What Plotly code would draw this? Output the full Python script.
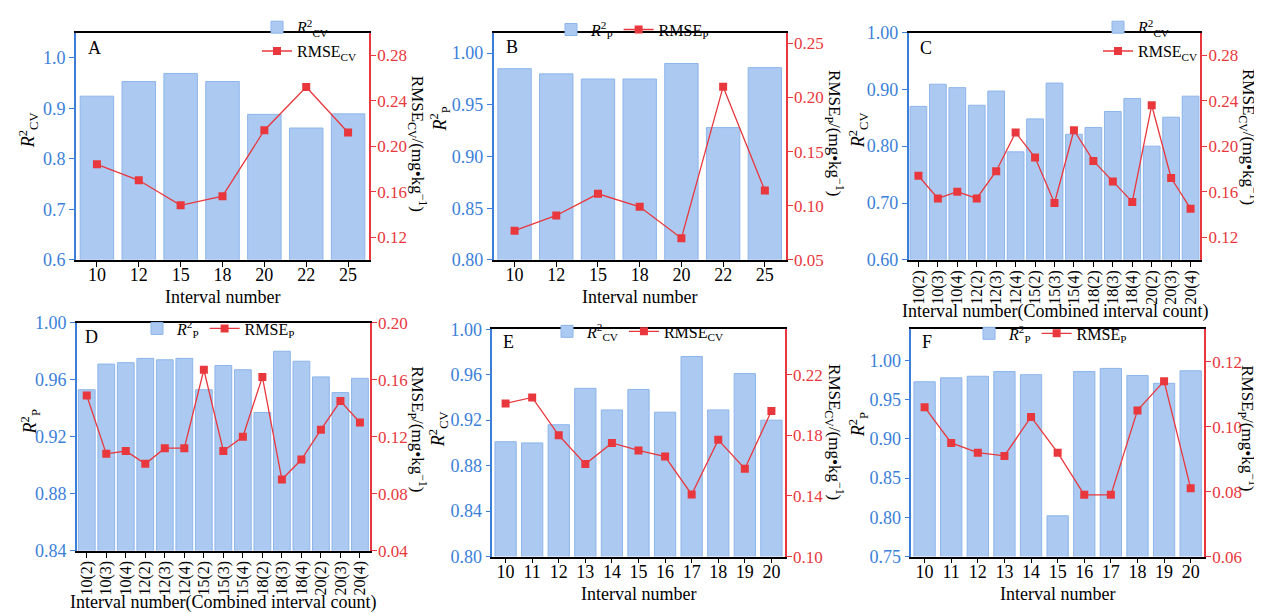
import plotly.graph_objects as go

W, H = 1262, 614

# ---------------- data ----------------
cats_AB = ["10", "12", "15", "18", "20", "22", "25"]
r2cv_A = [0.924, 0.953, 0.969, 0.953, 0.888, 0.861, 0.889]
rmsecv_A = [0.184, 0.170, 0.148, 0.156, 0.214, 0.252, 0.212]

r2p_B = [0.985, 0.980, 0.975, 0.975, 0.990, 0.928, 0.986]
rmsep_B = [0.077, 0.091, 0.111, 0.099, 0.070, 0.210, 0.114]

cats_CD = ["10(2)", "10(3)", "10(4)", "12(2)", "12(3)", "12(4)", "15(2)", "15(3)",
           "15(4)", "18(2)", "18(3)", "18(4)", "20(2)", "20(3)", "20(4)"]
r2cv_C = [0.870, 0.909, 0.903, 0.872, 0.897, 0.790, 0.848, 0.911, 0.821, 0.833,
          0.861, 0.884, 0.800, 0.851, 0.888]
rmsecv_C = [0.174, 0.154, 0.160, 0.154, 0.178, 0.212, 0.190, 0.150, 0.214, 0.187,
            0.169, 0.151, 0.236, 0.172, 0.145]

r2p_D = [0.953, 0.971, 0.972, 0.975, 0.974, 0.975, 0.953, 0.970, 0.967, 0.937,
         0.980, 0.973, 0.962, 0.951, 0.961]
rmsep_D = [0.149, 0.108, 0.110, 0.101, 0.112, 0.112, 0.167, 0.110, 0.120, 0.162,
           0.090, 0.104, 0.125, 0.145, 0.130]

cats_EF = ["10", "11", "12", "13", "14", "15", "16", "17", "18", "19", "20"]
r2cv_E = [0.901, 0.900, 0.916, 0.948, 0.929, 0.947, 0.927, 0.976, 0.929, 0.961, 0.920]
rmsecv_E = [0.201, 0.205, 0.180, 0.161, 0.175, 0.170, 0.166, 0.141, 0.177, 0.158, 0.196]

r2p_F = [0.973, 0.978, 0.980, 0.986, 0.982, 0.802, 0.986, 0.990, 0.981, 0.971, 0.987]
rmsep_F = [0.106, 0.095, 0.092, 0.091, 0.103, 0.092, 0.079, 0.079, 0.105, 0.114, 0.081]

# tick values
lt_A = [0.6, 0.7, 0.8, 0.9, 1.0]
rt_A = [0.12, 0.16, 0.20, 0.24, 0.28]
lt_B = [0.80, 0.85, 0.90, 0.95, 1.00]
rt_B = [0.05, 0.10, 0.15, 0.20, 0.25]
lt_C = [0.60, 0.70, 0.80, 0.90, 1.00]
rt_C = [0.12, 0.16, 0.20, 0.24, 0.28]
lt_D = [0.84, 0.88, 0.92, 0.96, 1.00]
rt_D = [0.04, 0.08, 0.12, 0.16, 0.20]
lt_E = [0.80, 0.84, 0.88, 0.92, 0.96, 1.00]
rt_E = [0.10, 0.14, 0.18, 0.22]
lt_F = [0.75, 0.80, 0.85, 0.90, 0.95, 1.00]
rt_F = [0.06, 0.08, 0.10, 0.12]

# ---------------- style ----------------
FONT = "Liberation Serif"
BLUE = "#3b7fd9"
RED = "#e8383d"
BAR_FILL = "#abc9f1"
BAR_LINE = "#8db5ea"

R2CV = "<i>R</i><sup>2</sup><sub>CV</sub>"
R2P = "<i>R</i><sup>2</sup><sub>P</sub>"
RMSECV = "RMSE<sub>CV</sub>"
RMSEP = "RMSE<sub>P</sub>"
UNIT = "/(mg•kg<sup>−1</sup>)"


def fx(px):
    return px / W


def fy(py):
    return 1 - py / H


panels = [
    dict(letter="A", cats=cats_AB, bar=r2cv_A, line=rmsecv_A, bn=R2CV, ln=RMSECV,
         lr=[0.6, 1.05], lt=lt_A, lf=".1f", rr=[0.10, 0.30], rt=rt_A, rf=".2f",
         xd=(68, 361), yd=(15, 250), angle=0, xt="Interval number", xty=288,
         lx=78, ly=31, leg=dict(x=249, y=22, orientation="v"),
         ltt=R2CV, rtt=RMSECV + UNIT, ltx=20, lty=116, rtx=409, rty=130, gap=0.2),
    dict(letter="B", cats=cats_AB, bar=r2p_B, line=rmsep_B, bn=R2P, ln=RMSEP,
         lr=[0.80, 1.02], lt=lt_B, lf=".2f", rr=[0.05, 0.26], rt=rt_B, rf=".2f",
         xd=(485.7, 777.7), yd=(15, 250), angle=0, xt="Interval number", xty=288,
         lx=496, ly=30, leg=dict(x=543, y=12, orientation="h"),
         ltt=R2P, rtt=RMSEP + UNIT, ltx=432, lty=105, rtx=827, rty=119, gap=0.2),
    dict(letter="C", cats=cats_CD, bar=r2cv_C, line=rmsecv_C, bn=R2CV, ln=RMSECV,
         lr=[0.60, 1.00], lt=lt_C, lf=".2f", rr=[0.10, 0.30], rt=rt_C, rf=".2f",
         xd=(900.7, 1192.3), yd=(15, 250), angle=-90,
         xt="Interval number(Combined interval count)", xty=303,
         lx=910, ly=31, leg=dict(x=1090, y=22, orientation="v"),
         ltt=R2CV, rtt=RMSECV + UNIT, ltx=850, lty=116, rtx=1240, rty=123, gap=0.14),
    dict(letter="D", cats=cats_CD, bar=r2p_D, line=rmsep_D, bn=R2P, ln=RMSEP,
         lr=[0.84, 1.00], lt=lt_D, lf=".2f", rr=[0.04, 0.20], rt=rt_D, rf=".2f",
         xd=(69, 361.7), yd=(315, 550.7), angle=-90,
         xt="Interval number(Combined interval count)", xty=604,
         lx=75, ly=330, leg=dict(x=129, y=321, orientation="h"),
         ltt=R2P, rtt=RMSEP + UNIT, ltx=22, lty=418, rtx=410, rty=425, gap=0.14),
    dict(letter="E", cats=cats_EF, bar=r2cv_E, line=rmsecv_E, bn=R2CV, ln=RMSECV,
         lr=[0.80, 1.00], lt=lt_E, lf=".2f", rr=[0.10, 0.25], rt=rt_E, rf=".2f",
         xd=(484.3, 776.7), yd=(321.7, 556.7), angle=0, xt="Interval number", xty=595,
         lx=493, ly=335, leg=dict(x=539, y=324, orientation="h"),
         ltt=R2CV, rtt=RMSECV + UNIT, ltx=430, lty=425, rtx=827, rty=428, gap=0.2),
    dict(letter="F", cats=cats_EF, bar=r2p_F, line=rmsep_F, bn=R2P, ln=RMSEP,
         lr=[0.75, 1.04], lt=lt_F, lf=".2f", rr=[0.06, 0.13], rt=rt_F, rf=".2f",
         xd=(903.3, 1196), yd=(321.7, 556.7), angle=0, xt="Interval number", xty=595,
         lx=912, ly=335, leg=dict(x=961, y=326, orientation="h"),
         ltt=R2P, rtt=RMSEP + UNIT, ltx=850, lty=420, rtx=1240, rty=424, gap=0.2),
]

fig = go.Figure()
layout = dict(
    width=W, height=H, margin=dict(l=0, r=0, t=0, b=0, pad=0),
    paper_bgcolor="white", plot_bgcolor="white",
    font=dict(family=FONT, size=17, color="black"),
    barmode="group", bargap=0.2,
    annotations=[],
)

for i, p in enumerate(panels, start=1):
    xname = "x" if i == 1 else f"x{i}"
    xkey = "xaxis" if i == 1 else f"xaxis{i}"
    ly_n = 2 * i - 1
    ry_n = 2 * i
    lyname = "y" if ly_n == 1 else f"y{ly_n}"
    lykey = "yaxis" if ly_n == 1 else f"yaxis{ly_n}"
    ryname = f"y{ry_n}"
    rykey = f"yaxis{ry_n}"
    legref = "legend" if i == 1 else f"legend{i}"

    fig.add_trace(go.Bar(
        x=p["cats"], y=p["bar"], name=p["bn"], xaxis=xname, yaxis=lyname,
        marker=dict(color=BAR_FILL, line=dict(color=BAR_LINE, width=1)),
        width=1 - p["gap"], legend=legref,
    ))
    fig.add_trace(go.Scatter(
        x=p["cats"], y=p["line"], name=p["ln"], xaxis=xname, yaxis=ryname,
        mode="lines+markers", line=dict(color=RED, width=1.3),
        marker=dict(symbol="square", size=8, color=RED), legend=legref,
    ))

    x0, x1 = p["xd"]
    y0, y1 = p["yd"]
    rotated = p["angle"] != 0
    layout[xkey] = dict(
        domain=[fx(x0), fx(x1)], anchor=lyname, type="category",
        range=[-0.5, len(p["cats"]) - 0.5],
        tickmode="array", tickvals=p["cats"], ticktext=p["cats"],
        showline=True, linecolor="black", linewidth=1.6, mirror=True,
        ticks="outside", ticklen=5, tickwidth=1.2, tickcolor="black",
        tickangle=p["angle"], ticklabelstandoff=-3 if rotated else -7,
        tickfont=dict(family=FONT, size=16 if rotated else 18, color="black"),
        showgrid=False, zeroline=False, fixedrange=True,
    )
    layout[lykey] = dict(
        domain=[fy(y1), fy(y0)], anchor=xname, range=p["lr"],
        tickvals=p["lt"], ticktext=[format(v, p["lf"]) for v in p["lt"]],
        showline=True, linecolor=BLUE, linewidth=1.6,
        ticks="outside", ticklen=5, tickwidth=1.2, tickcolor=BLUE,
        tickfont=dict(family=FONT, size=18, color=BLUE),
        showgrid=False, zeroline=False, fixedrange=True,
    )
    layout[rykey] = dict(
        overlaying=lyname, side="right", anchor=xname, range=p["rr"],
        tickvals=p["rt"], ticktext=[format(v, p["rf"]) for v in p["rt"]],
        showline=True, linecolor=RED, linewidth=1.6,
        ticks="outside", ticklen=5, tickwidth=1.2, tickcolor=RED,
        ticklabelstandoff=-2,
        tickfont=dict(family=FONT, size=17, color=RED),
        showgrid=False, zeroline=False, fixedrange=True,
    )
    lg = p["leg"]
    layout[legref] = dict(
        x=fx(lg["x"]), y=fy(lg["y"]), xanchor="left", yanchor="middle",
        orientation=lg["orientation"], bgcolor="rgba(0,0,0,0)",
        font=dict(family=FONT, size=16, color="black"),
        itemwidth=30, tracegroupgap=0, borderwidth=0,
    )

    xmid = (x0 + x1) / 2
    anns = layout["annotations"]
    anns.append(dict(text=p["letter"], x=fx(p["lx"]), y=fy(p["ly"]), xref="paper",
                     yref="paper", xanchor="left", yanchor="middle", showarrow=False,
                     font=dict(family=FONT, size=18, color="black")))
    anns.append(dict(text=p["xt"], x=fx(xmid), y=fy(p["xty"]), xref="paper",
                     yref="paper", xanchor="center", yanchor="middle", showarrow=False,
                     font=dict(family=FONT, size=18, color="black")))
    anns.append(dict(text=p["ltt"], x=fx(p["ltx"]), y=fy(p["lty"]), xref="paper",
                     yref="paper", xanchor="center", yanchor="middle", showarrow=False,
                     textangle=-90, font=dict(family=FONT, size=18, color="black")))
    anns.append(dict(text=p["rtt"], x=fx(p["rtx"]), y=fy(p["rty"]), xref="paper",
                     yref="paper", xanchor="center", yanchor="middle", showarrow=False,
                     textangle=90, font=dict(family=FONT, size=17, color="black")))

fig.update_layout(**layout)
fig.update_layout(showlegend=True)
fig.write_html("out.html")
